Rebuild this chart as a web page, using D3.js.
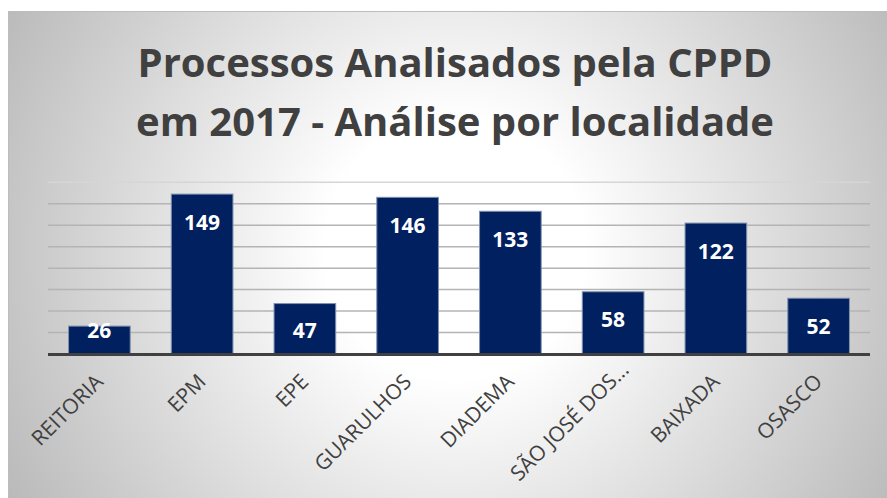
<!DOCTYPE html>
<html>
<head>
<meta charset="utf-8">
<script src="https://cdn.jsdelivr.net/npm/d3@7"></script>
<style>
  body { margin: 0; background: #fff; }
  text { font-family: "Open Sans", sans-serif; }
</style>
</head>
<body>
<div id="chart"></div>
<script>
// data
var locais = ["REITORIA", "EPM", "EPE", "GUARULHOS", "DIADEMA", "SÃO JOSÉ DOS...", "BAIXADA", "OSASCO"];
var processos = [26, 149, 47, 146, 133, 58, 122, 52];
var yTicks = [20, 40, 60, 80, 100, 120, 140, 160];
var titleLines = ["Processos Analisados pela CPPD", "em 2017 - Análise por localidade"];

var svgWidth = 887;
var svgHeight = 498;

var svg = d3.select("#chart").append("svg")
    .attr("width", svgWidth)
    .attr("height", svgHeight);

// background gradient (grey edges, white centre)
var defs = svg.append("defs");
var grad = defs.append("radialGradient")
    .attr("id", "bg")
    .attr("gradientUnits", "userSpaceOnUse")
    .attr("cx", 455).attr("cy", 250).attr("r", 520);
grad.append("stop").attr("offset", "0%").attr("stop-color", "#ffffff");
grad.append("stop").attr("offset", "25%").attr("stop-color", "#ffffff");
grad.append("stop").attr("offset", "100%").attr("stop-color", "#b8b8b8");

svg.append("rect")
    .attr("x", 8.5).attr("y", 11.5)
    .attr("width", 890).attr("height", 500)
    .attr("fill", "url(#bg)")
    .attr("stroke", "#bdbdbd")
    .attr("stroke-width", 1);

// title
svg.append("text")
    .attr("x", 455)
    .attr("y", 77)
    .attr("text-anchor", "middle")
    .attr("font-size", 40)
    .attr("font-weight", 700)
    .attr("fill", "#404040")
    .selectAll("tspan")
    .data(titleLines)
    .enter()
    .append("tspan")
    .attr("x", 455)
    .attr("dy", (d, i) => i === 0 ? 0 : 59)
    .text(d => d);

// scales
var x = d3.scaleBand()
    .domain(locais)
    .range([48, 870])
    .paddingInner(0.4)
    .paddingOuter(0.2);

var y = d3.scaleLinear()
    .domain([0, 160])
    .range([354, 182.3]);

// gridlines
svg.append("g")
    .selectAll("line")
    .data(yTicks)
    .enter()
    .append("line")
    .attr("x1", 48).attr("x2", 870)
    .attr("y1", d => y(d)).attr("y2", d => y(d))
    .attr("stroke", d => d === 160 ? "#d6d6d6" : "#b4b4b4")
    .attr("stroke-width", 1.5);

// bars
svg.append("g")
    .selectAll("rect")
    .data(processos)
    .enter()
    .append("rect")
    .attr("x", (d, i) => x(locais[i]))
    .attr("y", d => y(d))
    .attr("width", x.bandwidth())
    .attr("height", d => y(0) - y(d))
    .attr("fill", "#002060")
    .attr("stroke", "#7f91b0")
    .attr("stroke-width", 1);

// axis line
svg.append("line")
    .attr("x1", 48).attr("x2", 870)
    .attr("y1", y(0) + 0.5).attr("y2", y(0) + 0.5)
    .attr("stroke", "#404040")
    .attr("stroke-width", 3);

// value labels
svg.append("g")
    .selectAll("text")
    .data(processos)
    .enter()
    .append("text")
    .attr("x", (d, i) => x(locais[i]) + x.bandwidth() / 2)
    .attr("y", d => Math.min(y(d) + 28, y(0) - 24))
    .attr("dy", "0.36em")
    .attr("text-anchor", "middle")
    .attr("font-size", 21)
    .attr("font-weight", 700)
    .attr("fill", "#ffffff")
    .text(d => d);

// category axis
var bottomAxis = d3.axisBottom(x).tickSize(0);
var xAxis = svg.append("g")
    .attr("transform", `translate(0, ${y(0)})`)
    .call(bottomAxis);
xAxis.select(".domain").remove();
// truncated labels sit further along the slant (like excel does)
xAxis.selectAll("text")
    .attr("x", d => d.endsWith("...") ? 17 : 0)
    .attr("y", 0).attr("dy", 0)
    .attr("transform", "translate(5, 29) rotate(-45)")
    .attr("text-anchor", "end")
    .attr("font-family", "Open Sans, sans-serif")
    .attr("font-size", 21)
    .attr("fill", "#404040");
</script>
</body>
</html>
